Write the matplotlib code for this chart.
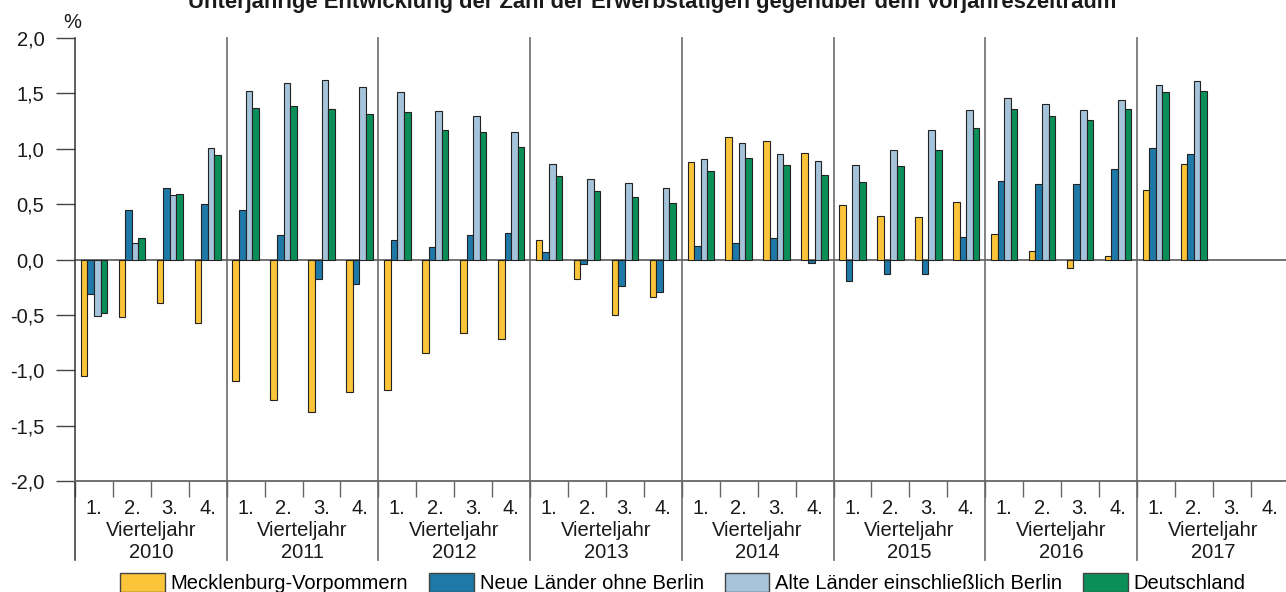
import matplotlib.pyplot as plt
import numpy as np
from matplotlib.patches import Patch

plt.rcParams['font.family'] = ['Liberation Sans', 'DejaVu Sans']

years = ['2010', '2011', '2012', '2013', '2014', '2015', '2016', '2017']
quarters = ['1.', '2.', '3.', '4.']
series_names = ['Mecklenburg-Vorpommern', 'Neue Länder ohne Berlin',
                'Alte Länder einschließlich Berlin', 'Deutschland']

# Veränderung gegenüber Vorjahresquartal in %, 2010 Q1 .. 2017 Q2
mv = [-1.05, -0.52, -0.39, -0.57, -1.10, -1.27, -1.38, -1.20,
      -1.18, -0.84, -0.66, -0.72, 0.18, -0.18, -0.50, -0.34,
      0.88, 1.11, 1.07, 0.96, 0.49, 0.39, 0.38, 0.52,
      0.23, 0.08, -0.08, 0.03, 0.63, 0.86]
neue = [-0.31, 0.45, 0.65, 0.50, 0.45, 0.22, -0.18, -0.22,
        0.18, 0.11, 0.22, 0.24, 0.07, -0.04, -0.24, -0.29,
        0.12, 0.15, 0.19, -0.03, -0.19, -0.13, -0.13, 0.20,
        0.71, 0.68, 0.68, 0.82, 1.01, 0.95]
alte = [-0.51, 0.15, 0.58, 1.01, 1.52, 1.59, 1.62, 1.56,
        1.51, 1.34, 1.30, 1.15, 0.86, 0.73, 0.69, 0.65,
        0.91, 1.05, 0.95, 0.89, 0.85, 0.99, 1.17, 1.35,
        1.46, 1.40, 1.35, 1.44, 1.58, 1.61]
de = [-0.48, 0.19, 0.59, 0.94, 1.37, 1.39, 1.36, 1.31,
      1.33, 1.17, 1.15, 1.02, 0.75, 0.62, 0.56, 0.51,
      0.80, 0.92, 0.85, 0.76, 0.70, 0.84, 0.99, 1.19,
      1.36, 1.30, 1.26, 1.36, 1.51, 1.52]

colors = ['#fcc438', '#1f79a8', '#a5c3da', '#0b8e58']
fs = 14.5

W, H = 1286, 592
fig = plt.figure(figsize=(W / 100, H / 100), dpi=100)
ax = fig.add_axes([75 / W, 1 - 481 / H, 1213.6 / W, 443 / H])

n_q = len(years) * 4
bw = 0.174
x = np.arange(len(mv)) + 0.5
for k, vals in enumerate([mv, neue, alte, de]):
    ax.bar(x + (k - 1.5) * bw, vals, bw, color=colors[k],
           edgecolor='#222222', linewidth=0.8, zorder=3)

ax.set_xlim(0, n_q)
ax.set_ylim(-2, 2)
ax.axhline(0, color='#666666', lw=1.3, zorder=2)

yt = np.arange(-2, 2.01, 0.5)
ax.set_yticks(yt)
ax.set_yticklabels([f'{v:.1f}'.replace('.', ',') for v in yt], fontsize=fs, color='#1a1a1a')
ax.tick_params(axis='y', length=14, width=1, color='#444444', pad=8)

ax.set_xticks([])
ax.set_xticks(np.arange(0, n_q + 1), minor=True)
ax.tick_params(axis='x', which='minor', length=11.5, width=1, color='#666666')

for s in ['top', 'right']:
    ax.spines[s].set_visible(False)
ax.spines['left'].set_color('#333333')
ax.spines['bottom'].set_color('#666666')
ax.spines['left'].set_linewidth(1.1)
ax.spines['bottom'].set_linewidth(1.3)

trans = ax.get_xaxis_transform()
low = -79 / 443
ax.plot([0, 0], [0, low], transform=trans, color='#333333', lw=1.1, clip_on=False)
for i in range(1, len(years)):
    ax.plot([i * 4, i * 4], [1, low], transform=trans, color='#777777', lw=1.3,
            clip_on=False, zorder=1)

for i, yr in enumerate(years):
    for j, q in enumerate(quarters):
        ax.text(i * 4 + j + 0.5, -28 / 443, q, transform=trans, ha='center',
                va='center', fontsize=fs, color='#1a1a1a')
    ax.text(i * 4 + 2, -49 / 443, 'Vierteljahr', transform=trans, ha='center',
            va='center', fontsize=fs, color='#1a1a1a')
    ax.text(i * 4 + 2, -71 / 443, yr, transform=trans, ha='center',
            va='center', fontsize=fs, color='#1a1a1a')

fig.text(72 / W, 1 - 22 / H, '%', ha='center', va='center', fontsize=fs, color='#1a1a1a')
fig.text(652 / W, 1 - 8 / H,
         'Unterjährige Entwicklung der Zahl der Erwerbstätigen gegenüber dem Vorjahreszeitraum',
         ha='center', va='baseline', fontsize=15.8, fontweight='bold', color='#1a1a1a')

handles = [Patch(facecolor=c, edgecolor='#444444', linewidth=1) for c in colors]
fig.legend(handles, series_names, ncol=4, loc='center', bbox_to_anchor=(683 / W, 1 - 583 / H),
           frameon=False, fontsize=fs, handlelength=2.2, handleheight=1.1,
           handletextpad=0.3, columnspacing=1.05, borderpad=0, borderaxespad=0)

fig.savefig('out.png', dpi=100)
